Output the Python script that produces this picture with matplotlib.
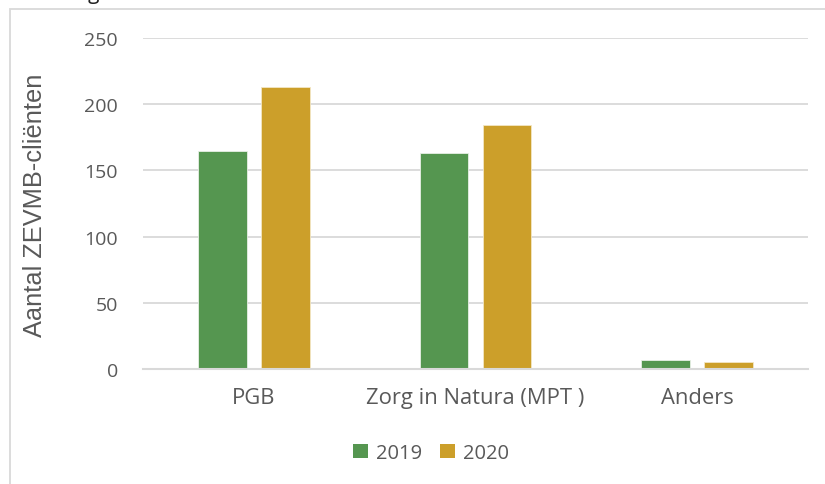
import matplotlib
matplotlib.use("Agg")
import matplotlib.pyplot as plt
from matplotlib.patches import Rectangle, Patch
import numpy as np

categories = ["PGB", "Zorg in Natura (MPT )", "Anders"]
series_names = ["2019", "2020"]
values_2019 = [165, 163, 7]
values_2020 = [213, 184, 5]
yticks = [0, 50, 100, 150, 200, 250]
ylabel = "Aantal ZEVMB-cliënten"

green = "#559650"
gold = "#CC9F2A"
grid_c = "#D9D9D9"
text_c = "#595959"

fig = plt.figure(figsize=(8.25, 4.85), dpi=100)
ax = fig.add_axes([143/825, 1-370/485, (808-143)/825, (370-39)/485])

x = np.arange(len(categories))
w = 0.22
off = 0.142
ax.bar(x - off, values_2019, width=w, color=green, edgecolor="#e8f0e6", linewidth=0.6, zorder=3)
ax.bar(x + off, values_2020, width=w, color=gold, edgecolor="#f3e6c4", linewidth=0.6, zorder=3)

ax.set_xlim(-0.5, 2.5)
ax.set_ylim(0, 250)
ax.set_yticks(yticks)
ax.set_xticks(x)
ax.set_xticklabels(categories, fontsize=15.8, color=text_c, family="Open Sans")
ax.set_yticklabels([str(v) for v in yticks], fontsize=14, color=text_c, family="Open Sans")
ax.tick_params(axis="both", length=0)
ax.tick_params(axis="y", pad=18)
ax.tick_params(axis="x", pad=13)
ax.yaxis.grid(True, color=grid_c, linewidth=1.3, zorder=0)
ax.set_axisbelow(True)
for s in ["top", "right", "left"]:
    ax.spines[s].set_visible(False)
ax.spines["bottom"].set_color(grid_c)
ax.spines["bottom"].set_linewidth(1.5)
ax.spines["bottom"].set_zorder(4)

fig.text(35/825, 1-205/485, ylabel, rotation=90, ha="center", va="center",
         fontsize=18.3, color=text_c, family="Liberation Sans")

handles = [Patch(facecolor=green, label=series_names[0]),
           Patch(facecolor=gold, label=series_names[1])]
fig.legend(handles=handles, loc="center", bbox_to_anchor=(431/825, 1-454/485), ncol=2,
           frameon=False, handlelength=0.75, handleheight=0.75, handletextpad=0.4,
           columnspacing=0.9, prop={"family": "Open Sans", "size": 14.5}, labelcolor=text_c)

fig.patches.append(Rectangle((10/825, -0.1), 1.0, 1 - 9.5/485 + 0.1, transform=fig.transFigure,
                             fill=False, edgecolor=grid_c, linewidth=1.3))
fig.text(88/825, 1 + 1/485, "g", ha="left", va="baseline", fontsize=15, color="#222222",
         family="Open Sans")

fig.savefig("out.png", dpi=100)
